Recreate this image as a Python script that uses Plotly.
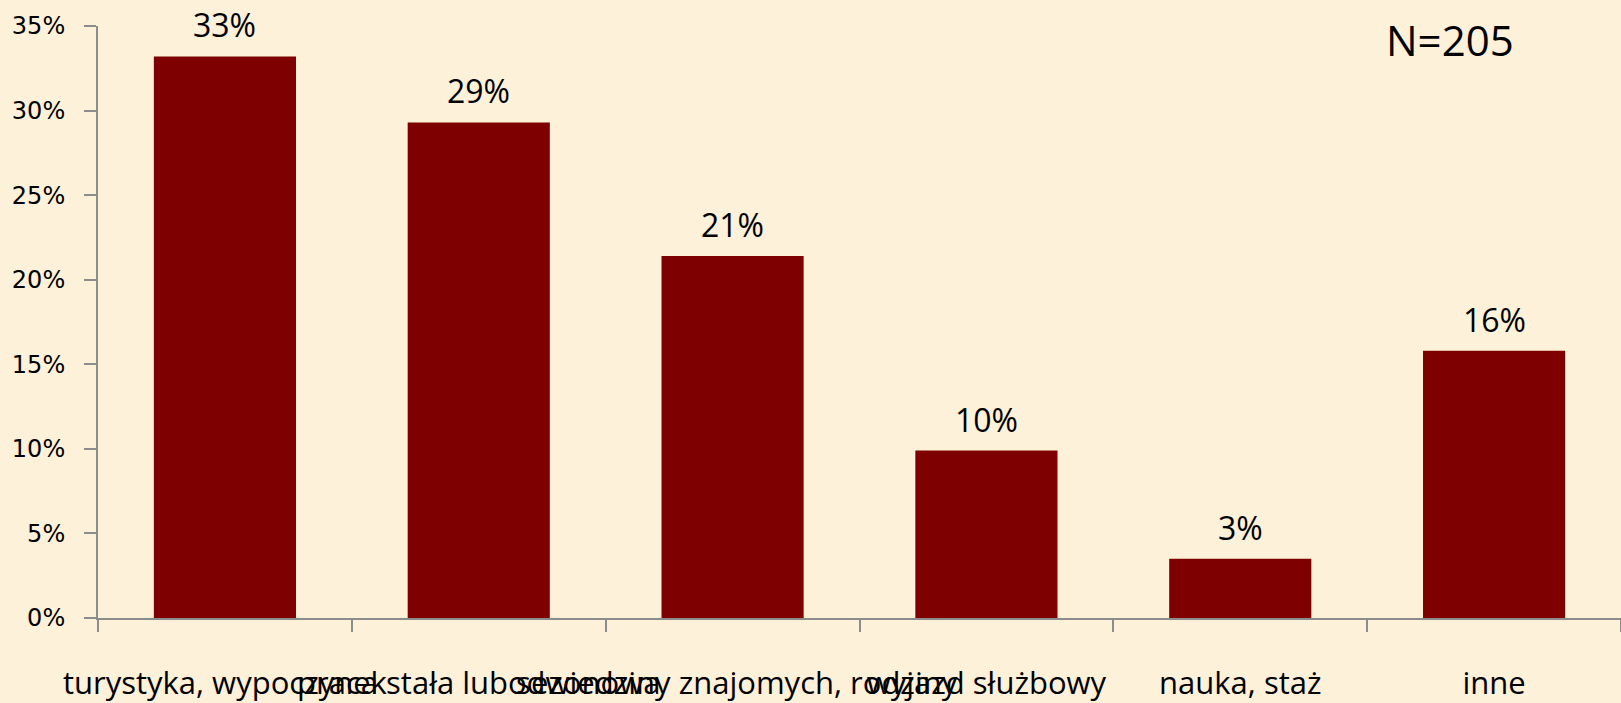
import plotly.graph_objects as go

categories = ["turystyka, wypoczynek", "praca stała lub sezonowa",
              "odwiedziny znajomych, rodziny", "wyjazd służbowy",
              "nauka, staż", "inne"]
values = [33.2, 29.3, 21.4, 9.9, 3.5, 15.8]
value_labels = ["33%", "29%", "21%", "10%", "3%", "16%"]
y_ticks = [0, 5, 10, 15, 20, 25, 30, 35]
y_tick_labels = ["0%", "5%", "10%", "15%", "20%", "25%", "30%", "35%"]

fig = go.Figure()
fig.add_trace(go.Bar(x=categories, y=values, marker=dict(color="#7F0000", line=dict(width=0)),
                     hoverinfo="skip"))

for c, v, t in zip(categories, values, value_labels):
    fig.add_annotation(x=c, y=v, text=t, showarrow=False, xanchor="center", yanchor="bottom",
                       yshift=8, font=dict(family="Open Sans", size=32, color="#000000"))

fig.add_annotation(xref="paper", yref="paper", x=0.888, y=1.0, text="N=205", showarrow=False,
                   xanchor="center", yanchor="middle", yshift=-13,
                   font=dict(family="Open Sans", size=42, color="#000000"))

fig.update_layout(
    width=1621, height=703,
    margin=dict(l=98, r=0, t=26, b=81),
    paper_bgcolor="#FEF1D9", plot_bgcolor="rgba(0,0,0,0)",
    bargap=0.44, showlegend=False,
    xaxis=dict(type="category", tickson="boundaries", ticks="outside", ticklen=12, tickwidth=2,
               tickcolor="#8C8C8C", showline=True, linecolor="#8C8C8C", linewidth=2,
               showgrid=False, tickangle=0, ticklabelstandoff=37,
               tickfont=dict(family="Open Sans", size=31, color="#000000")),
    yaxis=dict(range=[0, 35], tickvals=y_ticks, ticktext=y_tick_labels, ticks="outside",
               ticklen=12, tickwidth=2, tickcolor="#8C8C8C", showline=True, linecolor="#8C8C8C",
               linewidth=2, showgrid=False, zeroline=False, ticklabelstandoff=14,
               tickfont=dict(family="DejaVu Sans", size=24, color="#000000")),
)

fig.write_html("out.html", config={"displayModeBar": False},
               post_script="document.body.style.margin='0';document.body.style.overflow='hidden';")
